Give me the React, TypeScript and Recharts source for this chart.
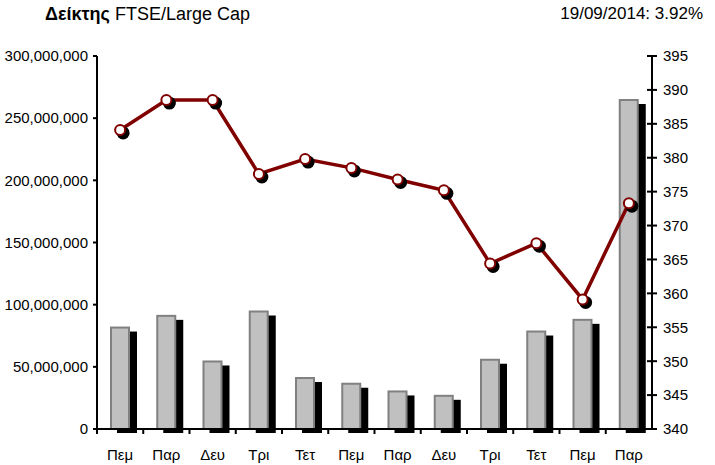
import React from 'react';
import { ComposedChart, Bar, Line, XAxis, YAxis } from 'recharts';

const days = ['Πεμ', 'Παρ', 'Δευ', 'Τρι', 'Τετ', 'Πεμ', 'Παρ', 'Δευ', 'Τρι', 'Τετ', 'Πεμ', 'Παρ'];
const volume = [81600000, 91000000, 54300000, 94500000, 41000000, 36400000, 30200000, 26700000, 55700000, 78400000, 87800000, 264600000];
const indexValue = [384.1, 388.5, 388.5, 377.6, 379.8, 378.5, 376.8, 375.2, 364.4, 367.4, 359.1, 373.3];
const leftTicks = [0, 50000000, 100000000, 150000000, 200000000, 250000000, 300000000];
const rightTicks = [340, 345, 350, 355, 360, 365, 370, 375, 380, 385, 390, 395];

const data = days.map((d, i) => ({ day: d, volume: volume[i], idx: indexValue[i] }));

const FONT = '"Liberation Sans", Arial, sans-serif';

const ShadowBar = (props: any) => {
  const { x, y, width, height } = props;
  if (height == null || height <= 0) return null;
  return (
    <g>
      <rect x={x + 6} y={y + 4} width={width + 2} height={height} fill="#000" />
      <rect x={x} y={y} width={width} height={height} fill="#C0C0C0" stroke="#808080" strokeWidth={2} />
    </g>
  );
};

const ShadowDot = (props: any) => {
  const { cx, cy, index } = props;
  if (cx == null || cy == null) return null;
  return (
    <g key={`dot-${index}`}>
      <circle cx={cx + 3} cy={cy + 3} r={6.5} fill="#000" />
      <circle cx={cx} cy={cy} r={5} fill="#fff" stroke="#800000" strokeWidth={2} />
    </g>
  );
};

const XTick = (props: any) => {
  const { x, y, payload } = props;
  const off = payload && payload.offset ? payload.offset : 23.1;
  return (
    <g>
      <line x1={x - off} x2={x - off} y1={y - 4} y2={y + 1} stroke="#000" strokeWidth={2} />
      <text x={x} y={y + 27} textAnchor="middle" fontSize={15} fontFamily={FONT} fill="#000">
        {payload.value}
      </text>
    </g>
  );
};

const RightTick = (props: any) => {
  const { x, y, payload } = props;
  return (
    <g>
      <line x1={x - 16} x2={x - 6} y1={y} y2={y} stroke="#000" strokeWidth={2} />
      <text x={x} y={y} dy="0.36em" textAnchor="start" fontSize={15} fontFamily={FONT} fill="#000">
        {payload.value}
      </text>
    </g>
  );
};

export default function App() {
  return (
    <div style={{ position: 'absolute', left: 0, top: 0, width: 715, height: 465, background: '#fff', fontFamily: FONT }}>
      <div style={{ position: 'absolute', left: 45, top: 4, fontSize: 18, color: '#000', whiteSpace: 'nowrap' }}>
        <b>Δείκτης</b> FTSE/Large Cap
      </div>
      <div style={{ position: 'absolute', right: 12, top: 4, fontSize: 17, color: '#000', whiteSpace: 'nowrap' }}>
        19/09/2014: 3.92%
      </div>
      <ComposedChart
        width={715}
        height={465}
        data={data}
        margin={{ top: 56, right: 0, bottom: 0, left: 0 }}
        barSize={18}
      >
        <XAxis
          dataKey="day"
          interval={0}
          tickLine={false}
          tickSize={4}
          tickMargin={0}
          axisLine={{ stroke: '#000', strokeWidth: 2 }}
          tick={<XTick />}
          height={36}
        />
        <YAxis
          yAxisId="left"
          orientation="left"
          width={97}
          domain={[0, 300000000]}
          ticks={leftTicks}
          interval={0}
          tickSize={4}
          tickMargin={5}
          tickFormatter={(v: number) => v.toLocaleString('en-US')}
          tick={{ fontSize: 15, fontFamily: FONT, fill: '#000' }}
          tickLine={{ stroke: '#000', strokeWidth: 2 }}
          axisLine={{ stroke: '#000', strokeWidth: 2 }}
        />
        <YAxis
          yAxisId="right"
          orientation="right"
          width={63}
          domain={[340, 395]}
          ticks={rightTicks}
          interval={0}
          tickSize={5}
          tickMargin={6}
          tickLine={false}
          tick={<RightTick />}
          axisLine={{ stroke: '#000', strokeWidth: 2 }}
        />
        <Bar yAxisId="left" dataKey="volume" shape={<ShadowBar />} isAnimationActive={false} />
        <Line
          yAxisId="right"
          dataKey="idx"
          stroke="#800000"
          strokeWidth={3.5}
          dot={<ShadowDot />}
          activeDot={false}
          isAnimationActive={false}
        />
      </ComposedChart>
    </div>
  );
}
